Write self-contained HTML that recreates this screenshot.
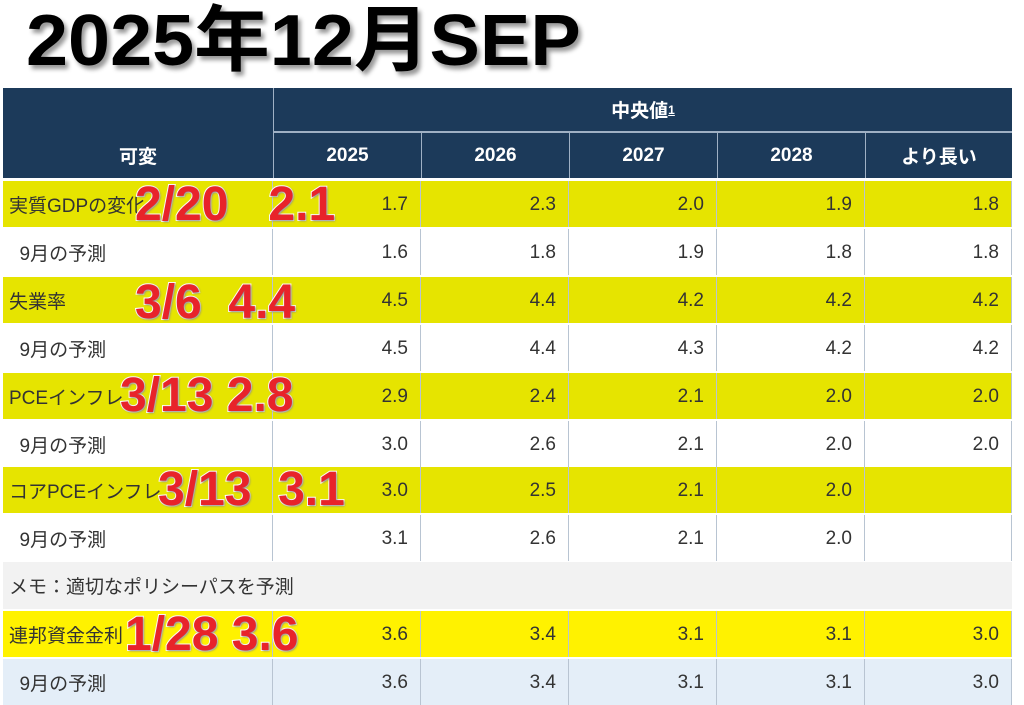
<!DOCTYPE html>
<html><head><meta charset="utf-8"><style>
body{margin:0;width:1024px;height:703px;background:#fff;position:relative;overflow:hidden;font-family:"Liberation Sans","Noto Sans CJK JP",sans-serif;}
.a{position:absolute;box-sizing:border-box}
.h{background:#1c3a5a;color:#fff;font-weight:bold;font-size:19px;display:flex;align-items:center;justify-content:center}
.c{font-size:19px;color:#333;display:flex;align-items:center;justify-content:flex-end;padding-right:12px;padding-top:2px;border-right:1px solid #b8c4d2}
.l{font-size:19px;color:#333;display:flex;align-items:center;padding-left:6px;border-right:1px solid #b8c4d2}
.r{font-weight:bold;color:#e8232a;font-size:48px;-webkit-text-stroke:2px #fff;paint-order:stroke fill;text-shadow:1px 1px 2px #888;white-space:nowrap;line-height:1}
.t{font-weight:bold;color:#000;font-size:72px;white-space:nowrap;line-height:1;-webkit-text-stroke:7px #fff;paint-order:stroke fill;text-shadow:3px 4px 4px #999;transform-origin:0 0;transform:scaleX(1.05)}
</style></head><body>
<div class="a t" style="left:26px;top:5px">2025年12月SEP</div>
<div class="a" style="left:3px;top:88px;width:1009px;height:90px;background:#1c3a5a"></div>
<div class="a h" style="left:3px;top:133px;width:270px;height:45px;">可変</div>
<div class="a" style="left:273px;top:88px;width:1px;height:90px;background:#9fb0c4"></div>
<div class="a h" style="left:274px;top:88px;width:738px;height:43px;">中央値<sup style="font-size:12px;text-decoration:underline">1</sup></div>
<div class="a" style="left:274px;top:131px;width:738px;height:2px;background:#9fb0c4"></div>
<div id="g"></div>
<script>
var cols=[273,421,569,717,865,1012];
var yrs=["2025","2026","2027","2028","より長い"];
var h="";
for(var i=0;i<5;i++){h+='<div class="a h" style="left:'+cols[i]+'px;top:133px;width:'+(cols[i+1]-cols[i])+'px;height:45px;border-left:1px solid #9fb0c4">'+yrs[i]+'</div>';}
var rows=[
[180,"#e6e400","実質GDPの変化",["1.7","2.3","2.0","1.9","1.8"]],
[228,"#fff","&nbsp;&nbsp;9月の予測",["1.6","1.8","1.9","1.8","1.8"]],
[276,"#e6e400","失業率",["4.5","4.4","4.2","4.2","4.2"]],
[324,"#fff","&nbsp;&nbsp;9月の予測",["4.5","4.4","4.3","4.2","4.2"]],
[372,"#e6e400","PCEインフレ",["2.9","2.4","2.1","2.0","2.0"]],
[420,"#fff","&nbsp;&nbsp;9月の予測",["3.0","2.6","2.1","2.0","2.0"]],
[466,"#e6e400","コアPCEインフレ",["3.0","2.5","2.1","2.0",""]],
[514,"#fff","&nbsp;&nbsp;9月の予測",["3.1","2.6","2.1","2.0",""]],
[610,"#fff200","連邦資金金利",["3.6","3.4","3.1","3.1","3.0"]],
[658,"#e4eef8","&nbsp;&nbsp;9月の予測",["3.6","3.4","3.1","3.1","3.0"]]];
rows.forEach(function(r){
 var y=r[0]+1,hh=46;
 h+='<div class="a l" style="left:3px;top:'+y+'px;width:270px;height:'+hh+'px;background:'+r[1]+';overflow:hidden;white-space:nowrap">'+r[2]+'</div>';
 for(var i=0;i<5;i++){h+='<div class="a c" style="left:'+cols[i]+'px;top:'+y+'px;width:'+(cols[i+1]-cols[i])+'px;height:'+hh+'px;background:'+r[1]+'">'+r[3][i]+'</div>';}
});
h+='<div class="a l" style="left:3px;top:562px;width:1009px;height:47px;background:#f2f2f2;border:none">メモ：適切なポリシーパスを予測</div>';
[[135,181,"2/20&nbsp;&nbsp;&nbsp;2.1"],[135,279,"3/6&nbsp;&nbsp;4.4"],[120,372,"3/13 2.8"],[158,466,"3/13&nbsp;&nbsp;3.1"],[125,611,"1/28 3.6"]].forEach(function(o){
 h+='<div class="a r" style="left:'+o[0]+'px;top:'+o[1]+'px">'+o[2]+'</div>';});
document.getElementById("g").innerHTML=h;
</script>
</body></html>
